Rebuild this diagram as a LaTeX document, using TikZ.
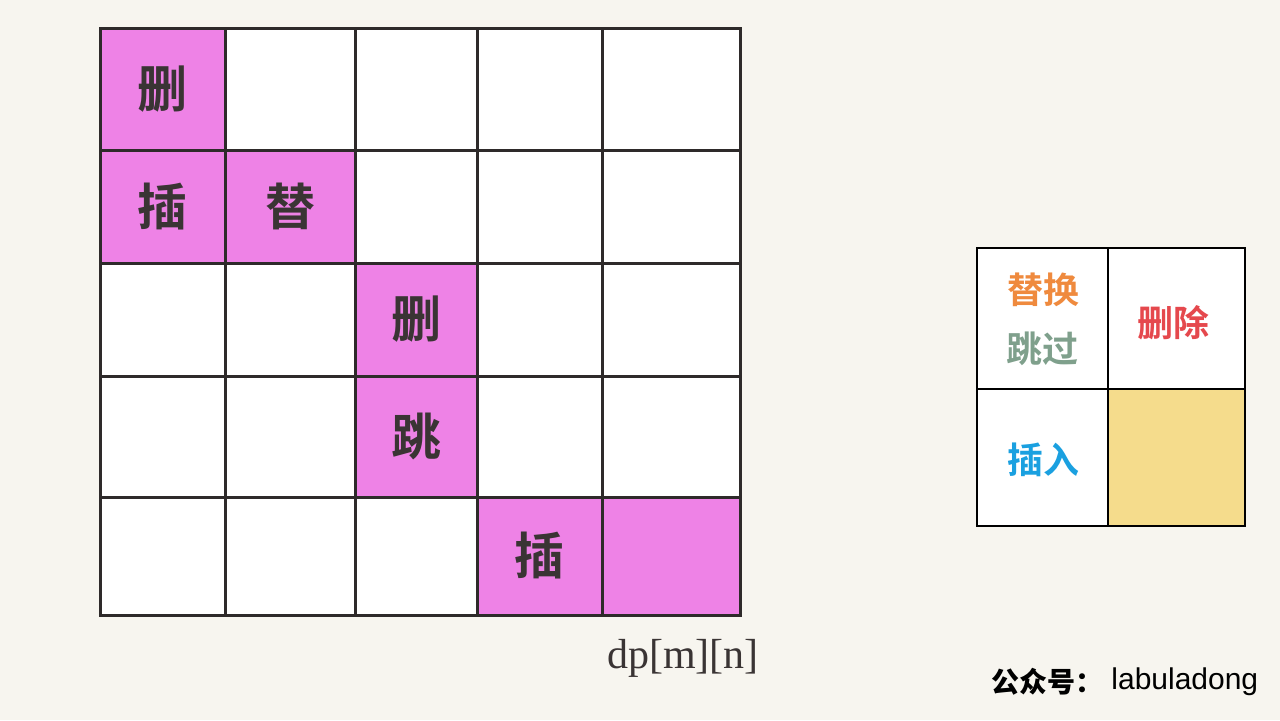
\documentclass[tikz,border=0pt]{standalone}
\usepackage{fontspec}
\setmainfont{Liberation Serif}
\setsansfont{Liberation Sans}
\newfontfamily\cjk{Noto Sans CJK SC Bold}
\newfontfamily\cjkblack{Noto Sans CJK SC Black}
\definecolor{paper}{HTML}{F7F5EF}
\definecolor{hitpink}{HTML}{EE82E6}
\definecolor{keyyellow}{HTML}{F5DC8C}
\definecolor{gridline}{HTML}{2E2A2A}
\definecolor{txtdark}{HTML}{3A3434}
\definecolor{repl}{HTML}{EF8A3E}
\definecolor{skip}{HTML}{7FA08C}
\definecolor{dele}{HTML}{E5484D}
\definecolor{inse}{HTML}{1AA0E0}
\begin{document}
\begin{tikzpicture}[x=0.5pt, y=-0.5pt,
    cell/.style={fill=white},
    hit/.style={fill=hitpink},
    grid/.style={draw=gridline, line width=1.5pt, line cap=rect},
    lab/.style={font=\cjk\fontsize{25}{25}\selectfont, text=txtdark, inner sep=0pt},
    keylab/.style={font=\cjk\fontsize{18}{18}\selectfont, inner sep=0pt}
]

% --- Hintergrund ---
\fill[paper] (0,0) rectangle (1280,720);
\useasboundingbox (0,0) rectangle (1280,720);

% --- Zellen der Tabelle ---
\foreach \xa/\xb [count=\i from 0] in {100/225,225/355,355/477,477/602,602/740}
  \foreach \ya/\yb [count=\j from 0] in {28/150,150/263,263/376,376/497,497/615} {
    \fill[cell] (\xa,\ya) rectangle (\xb,\yb);
    \coordinate (m-\j-\i) at ({(\xa+\xb)/2},{(\ya+\yb)/2});
  }

% --- markierte Zellen ---
\fill[hit] (100,28)  rectangle (225,150);
\fill[hit] (100,150) rectangle (225,263);
\fill[hit] (225,150) rectangle (355,263);
\fill[hit] (355,263) rectangle (477,376);
\fill[hit] (355,376) rectangle (477,497);
\fill[hit] (477,497) rectangle (602,615);
\fill[hit] (602,497) rectangle (740,615);

\node[lab] (t00) at (m-0-0) {删};
\node[lab] (t10) at (m-1-0) {插};
\node[lab] (t11) at (m-1-1) {替};
\node[lab] (t22) at (m-2-2) {删};
\node[lab] (t32) at (m-3-2) {跳};
\node[lab] (t43) at (m-4-3) {插};

% --- Gitterlinien ---
\foreach \x in {100,225,355,477,602,740}
  \draw[grid] (\x,28) -- (\x,615);
\foreach \y in {28,150,263,376,497,615}
  \draw[grid] (100,\y) -- (740,\y);

\node[font=\fontsize{21}{21}\selectfont, text=txtdark] (dp) at (683,658) {dp[m][n]};

% --- Legende ---
\fill[white] (977,248) rectangle (1245,526);
\fill[keyyellow] (1108,389) rectangle (1245,526);
\draw[line width=1pt, draw=black] (977,248) rectangle (1245,526);
\draw[line width=1pt, draw=black] (1108,248) -- (1108,526);
\draw[line width=1pt, draw=black] (977,389) -- (1245,389);

\node[keylab, text=repl] (kr) at (1043,290) {替换};
\node[keylab, text=skip] (ks) at (1042,349) {跳过};
\node[keylab, text=dele] (kd) at (1173,323) {删除};
\node[keylab, text=inse] (ki) at (1043,460) {插入};

% --- Fusszeile ---
\node[font=\cjkblack\fontsize{14}{14}\selectfont, anchor=east, inner sep=0pt] (gzh) at (1104,682) {公众号：};
\node[font=\sffamily\fontsize{15}{15}\selectfont, anchor=west, inner sep=0pt] (name) at (1111,682) {labuladong};

\end{tikzpicture}
\end{document}
